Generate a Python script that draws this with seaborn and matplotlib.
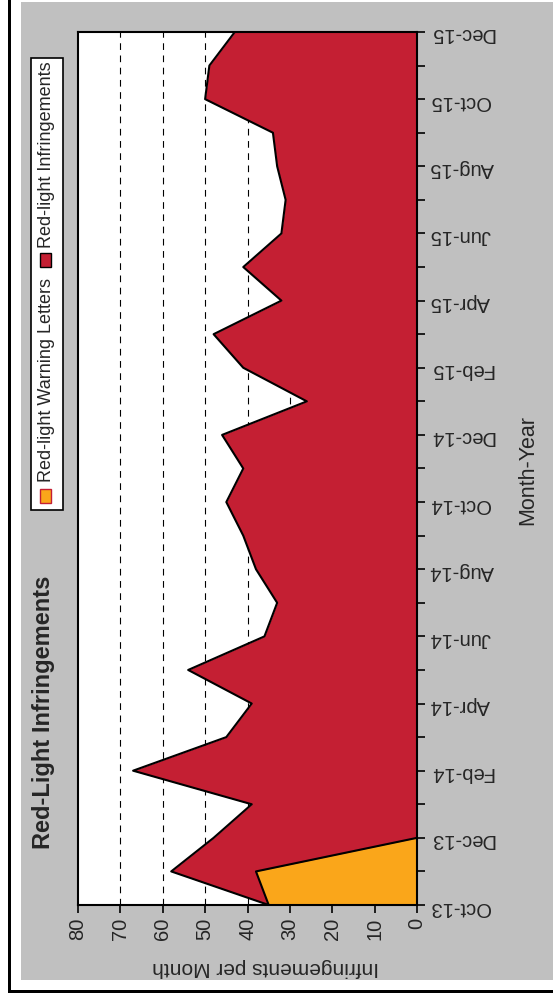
import numpy as np
import pandas as pd
import matplotlib
matplotlib.use("Agg")
import matplotlib.pyplot as plt
from matplotlib.patches import Rectangle
import seaborn as sns

months = ["Oct-13", "Nov-13", "Dec-13", "Jan-14", "Feb-14", "Mar-14", "Apr-14",
          "May-14", "Jun-14", "Jul-14", "Aug-14", "Sep-14", "Oct-14", "Nov-14",
          "Dec-14", "Jan-15", "Feb-15", "Mar-15", "Apr-15", "May-15", "Jun-15",
          "Jul-15", "Aug-15", "Sep-15", "Oct-15", "Nov-15", "Dec-15"]
infringements = [35, 58, 48, 39, 67, 45, 39, 54, 36, 33, 38, 41, 45, 41, 46,
                 26, 41, 48, 32, 41, 32, 31, 33, 34, 50, 49, 43]
warning_months = ["Oct-13", "Nov-13", "Dec-13"]
warning_letters = [35, 38, 0]
value_ticks = [0, 10, 20, 30, 40, 50, 60, 70, 80]

RED = "#C41F33"
ORANGE = "#FAA61A"
GRAY = "#C0C0C0"

sns.set_style("white")
plt.rcParams["font.family"] = ["Liberation Sans", "DejaVu Sans"]

W, H = 553, 1006
fig = plt.figure(figsize=(W / 100, H / 100), dpi=100)
fig.patch.set_facecolor("white")

def fx(px):
    return px / W

def fy(py):
    return 1 - py / H

# gray panel background and outer frame
fig.patches.append(Rectangle((fx(21), fy(980)), fx(553) - fx(21), fy(2) - fy(980),
                             transform=fig.transFigure, facecolor=GRAY,
                             edgecolor="none", zorder=-5))
fig.patches.append(Rectangle((fx(8), fy(993)), fx(3), fy(0) - fy(993),
                             transform=fig.transFigure, facecolor="black",
                             edgecolor="none", zorder=-4))
fig.patches.append(Rectangle((fx(8), fy(993)), fx(553) - fx(8), fy(990) - fy(993),
                             transform=fig.transFigure, facecolor="black",
                             edgecolor="none", zorder=-4))

ax = fig.add_axes([fx(78), fy(905), fx(417) - fx(78), fy(32) - fy(905)])
ax.set_zorder(5)
ax.set_facecolor("white")

df = pd.DataFrame({"month": months, "idx": np.arange(len(months)),
                   "value": infringements})
dw = pd.DataFrame({"month": warning_months,
                   "idx": [months.index(m) for m in warning_months],
                   "value": warning_letters})

# grid
for v in value_ticks[1:-1]:
    ax.axvline(v, color="black", lw=0.8, ls=(0, (6, 5)), zorder=1)

ax.fill_betweenx(df["idx"], 0, df["value"], color=RED, zorder=2, lw=0)
sns.lineplot(data=df, x="value", y="idx", orient="y", sort=False,
             color="black", lw=1.5, ax=ax, zorder=3)
ax.fill_betweenx(dw["idx"], 0, dw["value"], color=ORANGE, zorder=4, lw=0)
sns.lineplot(data=dw, x="value", y="idx", orient="y", sort=False,
             color="black", lw=1.5, ax=ax, zorder=5)

ax.set_xlim(80, 0)
ax.set_ylim(0, len(months) - 1)

for s in ax.spines.values():
    s.set_visible(True)
    s.set_color("black")
    s.set_linewidth(1.5)
    s.set_zorder(6)

ax.set_xticks(value_ticks)
ax.set_xticklabels([str(v) for v in value_ticks], rotation=90, fontsize=14.5)
ax.yaxis.tick_right()
ax.set_yticks(df["idx"])
ax.set_yticklabels([m if i % 2 == 0 else "" for i, m in enumerate(months)],
                   rotation=180, fontsize=14.5)
ax.tick_params(axis="both", direction="out", length=6, width=1.2, color="black",
               pad=3, bottom=True, right=True, left=False, top=False)

ax.set_xlabel("")
ax.set_ylabel("")
fig.text(fx(266), fy(967), "Infringements per Month", rotation=180,
         ha="center", va="center", fontsize=15)
fig.text(fx(528), fy(470), "Month-Year", rotation=90,
         ha="center", va="center", fontsize=15.5)

fig.text(fx(44), fy(712), "Red-Light Infringements", rotation=90,
         ha="center", va="center", fontsize=17, fontweight="bold")

# legend (vertical)
fig.patches.append(Rectangle((fx(31), fy(510)), fx(63) - fx(31), fy(58) - fy(510),
                             transform=fig.transFigure, facecolor="white",
                             edgecolor="black", lw=1.2, zorder=2))
fig.patches.append(Rectangle((fx(40), fy(503)), fx(11), fy(489) - fy(503),
                             transform=fig.transFigure, facecolor=ORANGE,
                             edgecolor=RED, lw=1, zorder=3))
fig.text(fx(47), fy(482), "Red-light Warning Letters", rotation=90,
         ha="center", va="bottom", fontsize=13)
fig.patches.append(Rectangle((fx(40), fy(267)), fx(11), fy(253) - fy(267),
                             transform=fig.transFigure, facecolor=RED,
                             edgecolor="black", lw=1, zorder=3))
fig.text(fx(47), fy(248), "Red-light Infringements", rotation=90,
         ha="center", va="bottom", fontsize=13)

fig.savefig("out.png", dpi=100)
